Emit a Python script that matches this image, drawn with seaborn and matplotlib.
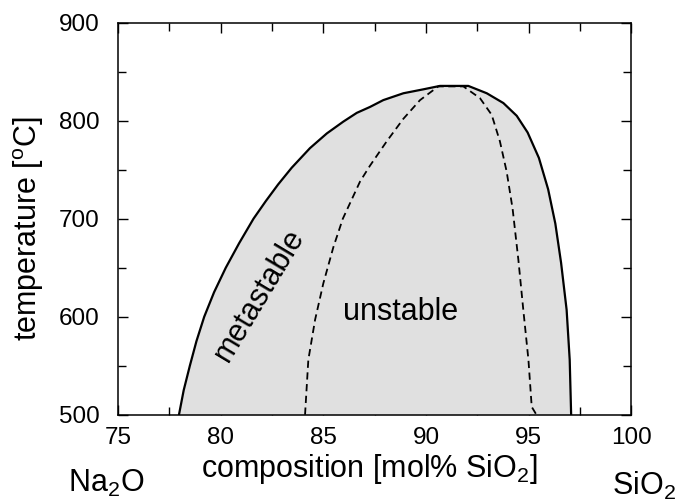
import matplotlib
matplotlib.use("Agg")
import matplotlib.pyplot as plt
from matplotlib.ticker import MultipleLocator
import seaborn as sns
import pandas as pd

# --- data ---
binodal_comp = [77.97, 78.2, 78.5, 78.82, 79.2, 79.68, 80.25, 80.9, 81.6, 82.2,
                82.8, 83.46, 84.35, 85.17, 85.97, 86.63, 87.27, 87.92, 88.9, 89.87,
                90.68, 92.06, 92.96, 93.77, 94.42, 94.95, 95.5, 95.95, 96.3, 96.58,
                96.85, 97.0, 97.07]
binodal_temp = [500, 525, 550, 575, 600, 625, 650, 675, 700, 718,
                735, 752, 772, 787, 799, 808, 814, 821, 828, 832,
                835.5, 835.5, 828, 818, 805, 788, 762, 730, 695, 655,
                607, 556, 500]

spinodal_comp = [84.11, 84.27, 84.6, 85.0, 85.49, 85.95, 86.79, 87.27, 88.09, 88.9,
                 89.71, 90.6, 91.82, 92.63, 93.2, 93.6, 93.93, 94.22, 94.5, 94.74,
                 94.99, 95.15, 95.35]
spinodal_temp = [500, 556, 597, 634, 671, 700, 738, 754, 779, 802,
                 821, 835, 835, 823, 806, 779, 748, 710, 658, 607,
                 556, 508, 501]

x_ticks = [75, 80, 85, 90, 95, 100]
y_ticks = [500, 600, 700, 800, 900]

sns.set_theme(style="ticks")
plt.rcParams["font.family"] = ["Liberation Sans", "DejaVu Sans"]
plt.rcParams["mathtext.fontset"] = "custom"
plt.rcParams["mathtext.rm"] = "Liberation Sans"
plt.rcParams["mathtext.it"] = "Liberation Sans:italic"
plt.rcParams["mathtext.bf"] = "Liberation Sans:bold"
for k in ["text.color", "axes.labelcolor", "xtick.color", "ytick.color", "axes.edgecolor"]:
    plt.rcParams[k] = "black"

fig = plt.figure(figsize=(6.78, 5.04), dpi=100)
ax = fig.add_axes([118 / 678, (504 - 414.7) / 504, (631.3 - 118) / 678, (414.7 - 22.7) / 504])

bdf = pd.DataFrame({"comp": binodal_comp, "temp": binodal_temp})
sdf = pd.DataFrame({"comp": spinodal_comp, "temp": spinodal_temp})

ax.fill_between(bdf["comp"], bdf["temp"], 500, color="#e0e0e0", linewidth=0, zorder=1)
sns.lineplot(data=bdf, x="comp", y="temp", sort=False, color="black", linewidth=1.6,
             ax=ax, zorder=3)
sns.lineplot(data=sdf, x="comp", y="temp", sort=False, color="black", linewidth=1.3,
             dashes=False, ax=ax, zorder=3, linestyle=(0, (4, 2.5)))

ax.set_xlim(75, 100)
ax.set_ylim(500, 900)
ax.set_xticks(x_ticks)
ax.set_yticks(y_ticks)
ax.xaxis.set_minor_locator(MultipleLocator(2.5))
ax.yaxis.set_minor_locator(MultipleLocator(50))
ax.tick_params(which="both", direction="in", top=True, right=True, color="black", width=1.0)
ax.tick_params(which="major", length=7.2)
ax.tick_params(which="minor", length=5.5)
ax.tick_params(axis="x", which="major", labelsize=17.5, pad=8.5, labelcolor="black")
ax.tick_params(axis="y", which="major", labelsize=17.5, pad=13, labelcolor="black")
for s in ax.spines.values():
    s.set_visible(True)
    s.set_linewidth(1.1)
    s.set_color("black")

ax.set_xlabel(r"composition [mol% SiO$_2$]", fontsize=22, color="black")
ax.set_ylabel(r"temperature [$^{\mathrm{o}}$C]", fontsize=22, color="black")
ax.xaxis.set_label_coords(0.49, -0.095)
ax.yaxis.set_label_coords(-0.140, 0.476)

ax.text(81.87, 622, "metastable", rotation=59, rotation_mode="anchor",
        ha="center", va="center", fontsize=22, color="black", zorder=4)
ax.text(88.74, 596.6, "unstable", ha="center", va="baseline", fontsize=22,
        color="black", zorder=4)

fig.text(68 / 678, (504 - 492) / 504, r"Na$_2$O", fontsize=22, ha="left", va="baseline",
         color="black")
fig.text(612 / 678, (504 - 495) / 504, r"SiO$_2$", fontsize=22, ha="left", va="baseline",
         color="black")

fig.savefig("out.png", dpi=100)
